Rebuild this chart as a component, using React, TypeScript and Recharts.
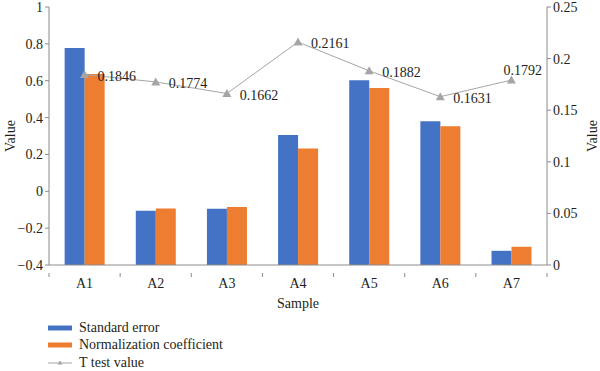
import React from "react";
import {
  ComposedChart,
  Bar,
  Line,
  XAxis,
  YAxis,
  Legend,
  LabelList,
  Label,
} from "recharts";

const categories = ["A1", "A2", "A3", "A4", "A5", "A6", "A7"];
const standardError = [0.778, -0.105, -0.095, 0.306, 0.603, 0.38, -0.323];
const normalizationCoefficient = [0.636, -0.094, -0.085, 0.232, 0.561, 0.353, -0.301];
const tTestValue = [0.1846, 0.1774, 0.1662, 0.2161, 0.1882, 0.1631, 0.1792];
const leftTicks = [-0.4, -0.2, 0, 0.2, 0.4, 0.6, 0.8, 1];
const rightTicks = [0, 0.05, 0.1, 0.15, 0.2, 0.25];
const LEFT_MIN = -0.4;

const data = categories.map((name, i) => ({
  name,
  se: standardError[i],
  nc: normalizationCoefficient[i],
  t: tTestValue[i],
}));

const FONT = "Liberation Serif, Times New Roman, DejaVu Serif, serif";
const TEXT = "#231f20";
const AXIS = "#8c8c8c";
const BLUE = "#4472C4";
const ORANGE = "#ED7D31";
const GRAY = "#A5A5A5";

const W = 600;
const H = 371;
const LEFT_W = 49;
const RIGHT_W = 53;
const BAND = (W - LEFT_W - RIGHT_W) / categories.length;

const fmt = (v: number) => (v < 0 ? "\u2212" + String(Math.abs(v)) : String(v));

const XTick = (props: any) => {
  const { x, y, payload, index } = props;
  const left = x - BAND / 2;
  const right = x + BAND / 2;
  return (
    <g>
      <line x1={left} y1={y} x2={left} y2={y + 4} stroke={AXIS} strokeWidth={1} />
      {index === categories.length - 1 && (
        <line x1={right} y1={y} x2={right} y2={y + 4} stroke={AXIS} strokeWidth={1} />
      )}
      <text x={x} y={y + 15} textAnchor="middle" fill={TEXT} fontSize={14} fontFamily={FONT}>
        {payload.value}
      </text>
    </g>
  );
};

const Triangle = (props: any) => {
  const { cx, cy } = props;
  if (cx == null || cy == null) return null;
  return (
    <polygon
      points={`${cx},${cy - 4.5} ${cx - 4.5},${cy + 3.5} ${cx + 4.5},${cy + 3.5}`}
      fill={GRAY}
      stroke="none"
    />
  );
};

const TLabel = (props: any) => {
  const { x, y, value, index } = props;
  const last = index === categories.length - 1;
  return (
    <text
      x={last ? x - 8 : x + 13}
      y={last ? y - 10 : y + 2}
      dominantBaseline="central"
      textAnchor="start"
      fill={TEXT}
      fontSize={14}
      fontFamily={FONT}
    >
      {Number(value).toFixed(4)}
    </text>
  );
};

const LegendContent = () => {
  const items = [
    { label: "Standard error", kind: "bar", color: BLUE },
    { label: "Normalization coefficient", kind: "bar", color: ORANGE },
    { label: "T test value", kind: "line", color: GRAY },
  ];
  return (
    <div style={{ fontFamily: FONT, fontSize: 14, color: TEXT }}>
      {items.map((it) => (
        <div key={it.label} style={{ display: "flex", alignItems: "center", height: 17.5 }}>
          <svg width={24} height={10} style={{ marginRight: 7 }}>
            {it.kind === "bar" ? (
              <rect x={0} y={2.5} width={24} height={5} fill={it.color} />
            ) : (
              <g>
                <line x1={0} y1={5} x2={24} y2={5} stroke={it.color} strokeWidth={1} />
                <polygon points="12,2.5 9.5,6.5 14.5,6.5" fill={it.color} />
              </g>
            )}
          </svg>
          <span>{it.label}</span>
        </div>
      ))}
    </div>
  );
};

export default function App() {
  return (
    <div style={{ position: "absolute", left: 0, top: 0, width: W, height: H, fontFamily: FONT }}>
      <ComposedChart
        width={W}
        height={H}
        data={data}
        margin={{ top: 7, right: 0, bottom: 0, left: 0 }}
        barGap={0}
        barCategoryGap="22%"
        style={{ fontFamily: FONT }}
      >
        <XAxis
          dataKey="name"
          height={106}
          tickLine={false}
          axisLine={{ stroke: AXIS }}
          tick={<XTick />}
          interval={0}
        >
          <Label
            value="Sample"
            position="insideTop"
            offset={33}
            fill={TEXT}
            fontSize={14}
            fontFamily={FONT}
          />
        </XAxis>
        <YAxis
          yAxisId="left"
          width={LEFT_W}
          domain={[-0.4, 1]}
          ticks={leftTicks}
          tickFormatter={fmt}
          axisLine={{ stroke: AXIS }}
          tickLine={{ stroke: AXIS }}
          tickSize={4}
          tickMargin={2}
          tick={{ fill: TEXT, fontSize: 14, fontFamily: FONT }}
          interval={0}
        >
          <Label
            value="Value"
            angle={-90}
            position="insideLeft"
            offset={10}
            style={{ textAnchor: "middle" }}
            fill={TEXT}
            fontSize={14}
            fontFamily={FONT}
          />
        </YAxis>
        <YAxis
          yAxisId="right"
          orientation="right"
          width={RIGHT_W}
          domain={[0, 0.25]}
          ticks={rightTicks}
          axisLine={{ stroke: AXIS }}
          tickLine={{ stroke: AXIS }}
          tickSize={4}
          tickMargin={2}
          tick={{ fill: TEXT, fontSize: 14, fontFamily: FONT }}
          interval={0}
        >
          <Label
            value="Value"
            angle={-90}
            position="insideRight"
            offset={8}
            style={{ textAnchor: "middle" }}
            fill={TEXT}
            fontSize={14}
            fontFamily={FONT}
          />
        </YAxis>
        <Legend
          layout="vertical"
          align="center"
          verticalAlign="middle"
          content={<LegendContent />}
          wrapperStyle={{ left: 48, top: 319, width: 250, height: 53 }}
        />
        <Bar
          yAxisId="left"
          dataKey={(d: any) => [LEFT_MIN, d.se]}
          name="Standard error"
          fill={BLUE}
          isAnimationActive={false}
        />
        <Bar
          yAxisId="left"
          dataKey={(d: any) => [LEFT_MIN, d.nc]}
          name="Normalization coefficient"
          fill={ORANGE}
          isAnimationActive={false}
        />
        <Line
          yAxisId="right"
          dataKey="t"
          name="T test value"
          stroke={GRAY}
          strokeWidth={1}
          dot={<Triangle />}
          activeDot={false}
          isAnimationActive={false}
        >
          <LabelList dataKey="t" content={<TLabel />} />
        </Line>
      </ComposedChart>
    </div>
  );
}
